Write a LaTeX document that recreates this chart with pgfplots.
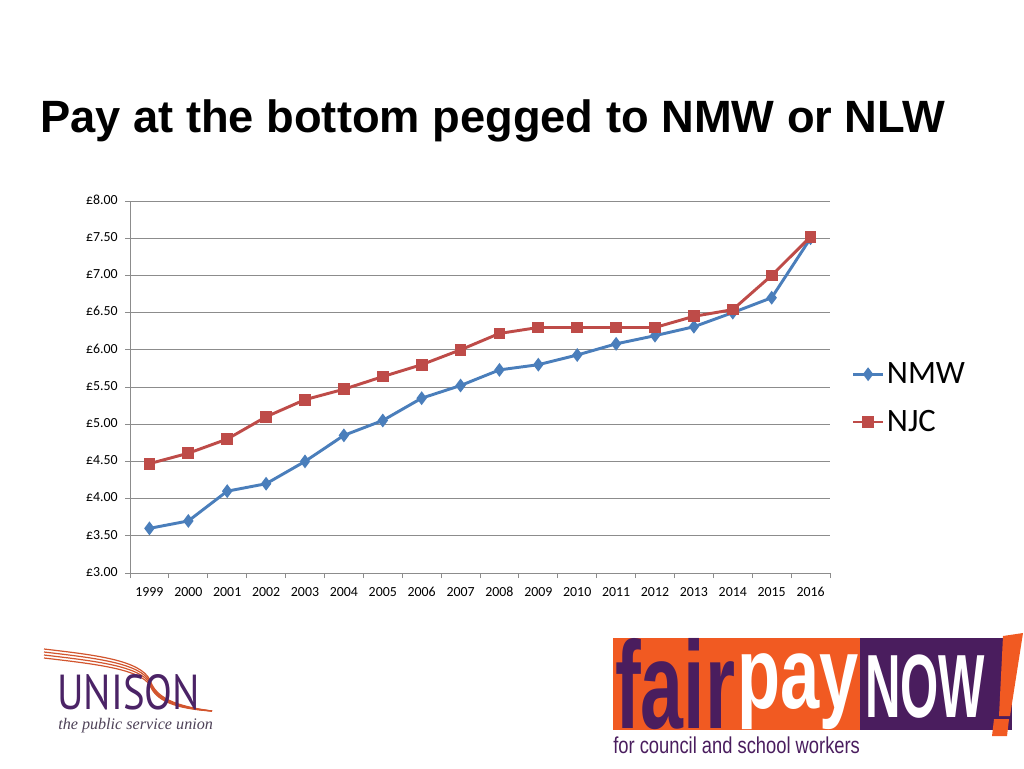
\documentclass[border=0pt]{standalone}
\usepackage{pgfplots}
\pgfplotsset{compat=1.18}
\usepackage{fontspec}
\setmainfont{Carlito}
\newfontfamily\arialfont{Liberation Sans}
\newfontfamily\serifont{Liberation Serif}
\newfontfamily\ptsans{PT Sans}
\definecolor{nmw}{HTML}{4A7EBB}
\definecolor{njc}{HTML}{BE4B48}
\definecolor{gridgray}{HTML}{8C8C8C}
\definecolor{unipurple}{HTML}{4B2366}
\definecolor{unigray}{HTML}{4E4258}
\definecolor{uniorange}{HTML}{D2552E}
\definecolor{fporange}{HTML}{F15A22}
\definecolor{fppurple}{HTML}{4A1D5E}

\begin{document}
\begin{tikzpicture}
\begin{scope}[x=0.75pt,y=-0.75pt]
\path[use as bounding box] (0,0) rectangle (1024,768);
\node[anchor=base west, inner sep=0, font=\arialfont\bfseries\fontsize{33.95}{40}\selectfont] at (40,132) {Pay at the bottom pegged to NMW or NLW};
\end{scope}

\begin{axis}[
  at={(97.5pt,-429.75pt)}, anchor=south west,
  scale only axis, width=525pt, height=279pt,
  xmin=-0.5, xmax=17.5, ymin=3, ymax=8,
  axis x line*=bottom, axis y line*=left,
  axis line style={gridgray, line width=0.75pt, -},
  xtick={0,...,17},
  xticklabels={1999,2000,2001,2002,2003,2004,2005,2006,2007,2008,2009,2010,2011,2012,2013,2014,2015,2016},
  major x tick style={draw=none},
  minor xtick={-0.5,0.5,...,17.5},
  tick align=outside,
  ytick={3,3.5,...,8},
  yticklabels={£3.00,£3.50,£4.00,£4.50,£5.00,£5.50,£6.00,£6.50,£7.00,£7.50,£8.00},
  ymajorgrids, grid style={gridgray, line width=0.75pt},
  major tick length=3.75pt, minor tick length=3.75pt,
  tick style={gridgray, line width=0.75pt},
  typeset ticklabels with strut,
  ticklabel style={font=\fontsize{10.4}{12}\selectfont, black},
  xticklabel style={yshift=-2pt},
  yticklabel style={xshift=-2pt},
  legend style={at={(1.031,0.47)}, anchor=west, draw=none, fill=none,
     font=\fontsize{24.5}{28}\selectfont, row sep=14.5pt, inner sep=0pt,
     nodes={inner sep=2pt}},
  legend cell align=left,
  legend image code/.code={\draw[mark repeat=2,mark phase=2,#1] plot coordinates {(0pt,0pt)(11pt,0pt)(22pt,0pt)};},
]
\addplot[nmw, line width=2.2pt, mark=diamond*, mark size=3.4pt, mark options={solid, fill=nmw}] coordinates {
(0,3.60) (1,3.70) (2,4.10) (3,4.20) (4,4.50) (5,4.85) (6,5.05) (7,5.35) (8,5.52)
(9,5.73) (10,5.80) (11,5.93) (12,6.08) (13,6.19) (14,6.31) (15,6.50) (16,6.70) (17,7.50)};
\addlegendentry{NMW}
\addplot[njc, line width=2.2pt, mark=square*, mark size=3.3pt, mark options={solid, fill=njc}] coordinates {
(0,4.47) (1,4.61) (2,4.80) (3,5.10) (4,5.33) (5,5.47) (6,5.64) (7,5.80) (8,6.00)
(9,6.22) (10,6.30) (11,6.30) (12,6.30) (13,6.30) (14,6.45) (15,6.54) (16,7.00) (17,7.52)};
\addlegendentry{NJC}
\end{axis}

\begin{scope}[x=0.75pt,y=-0.75pt]
% UNISON logo
\foreach \d in {0,3,6,9}{
  \draw[uniorange, line width=0.9pt] (44,649+\d) .. controls (95,655+\d) and (140,660+\d) .. (150,680+\d*0.6)
     .. controls (156,698+\d*0.3) and (175,706+\d*0.3) .. (212,711);
}
\node[anchor=south west, inner sep=0, unipurple] at (57,710) {\resizebox{107pt}{26.25pt}{\ptsans UNISON}};
\node[anchor=base west, inner sep=0, unigray] at (58,729) {\resizebox{116pt}{!}{\serifont\itshape the public service union}};
% fair pay NOW logo
\fill[fporange] (613,638) rectangle (860,730);
\fill[fppurple] (860,638) rectangle (1012,730);
\node[anchor=south west, inner sep=0, fppurple] at (615,730) {\resizebox{90pt}{67.5pt}{\arialfont\bfseries fair}};
\node[anchor=north west, inner sep=0, white] at (737,653) {\resizebox*{91pt}{57pt}{\arialfont\bfseries pay}};
\node[anchor=north west, inner sep=0, white] at (865,655) {\resizebox{90pt}{47pt}{\arialfont\bfseries NOW}};
\fill[fporange] (1003,636) -- (1023,633) -- (1010,716) -- (999,716) -- cycle;
\fill[fporange] (994,719) -- (1009,719) -- (1007,736) -- (992,736) -- cycle;
\node[anchor=north west, inner sep=0, fppurple] at (613,737) {\resizebox{185pt}{12.5pt}{\arialfont for council and school workers}};
\end{scope}
\end{tikzpicture}
\end{document}
